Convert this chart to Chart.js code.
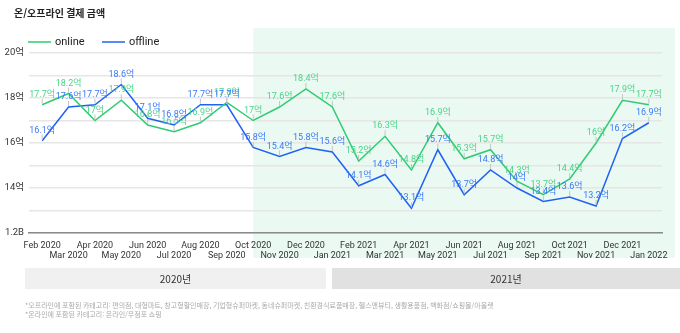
<!DOCTYPE html>
<html lang="ko">
<head>
<meta charset="utf-8">
<script src="https://cdn.jsdelivr.net/npm/chart.js@4/dist/chart.umd.min.js"></script>
<style>
  html, body { margin: 0; padding: 0; background: #fff; }
  #wrap { width: 680px; height: 333px; position: relative; }
</style>
</head>
<body>
<div id="wrap"><canvas id="c" width="680" height="333"></canvas></div>
<script>
// Monthly payment amounts (억 원), Feb 2020 – Jan 2022
const months = [
  'Feb 2020', 'Mar 2020', 'Apr 2020', 'May 2020', 'Jun 2020', 'Jul 2020',
  'Aug 2020', 'Sep 2020', 'Oct 2020', 'Nov 2020', 'Dec 2020', 'Jan 2021',
  'Feb 2021', 'Mar 2021', 'Apr 2021', 'May 2021', 'Jun 2021', 'Jul 2021',
  'Aug 2021', 'Sep 2021', 'Oct 2021', 'Nov 2021', 'Dec 2021', 'Jan 2022'
];
const online = [
  17.7, 18.2, 17, 17.9, 16.8, 16.5, 16.9, 17.8, 17, 17.6, 18.4, 17.6,
  15.2, 16.3, 14.8, 16.9, 15.3, 15.7, 14.3, 13.7, 14.4, 16, 17.9, 17.7
];
const offline = [
  16.1, 17.6, 17.7, 18.6, 17.1, 16.8, 17.7, 17.7, 15.8, 15.4, 15.8, 15.6,
  14.1, 14.6, 13.1, 15.7, 13.7, 14.8, 14, 13.4, 13.6, 13.2, 16.2, 16.9
];
const yTicks = [12, 14, 16, 18, 20];
const yearBands = ['2020년', '2021년'];
const footnotes = [
  '*오프라인에 포함된 카테고리: 편의점, 대형마트, 창고형할인매장, 기업형슈퍼마켓, 동네슈퍼마켓, 친환경식료품매장, 헬스앤뷰티, 생활용품점, 백화점/쇼핑몰/아울렛',
  '*온라인에 포함된 카테고리: 온라인/무점포 쇼핑'
];
const chartTitle = '온/오프라인 결제 금액';

const FONT = "Roboto, 'Noto Sans CJK KR', sans-serif";
const KFONT = "'Noto Sans CJK KR', Roboto, sans-serif";
const GREEN = '#2fcb72';
const BLUE = '#1f62f5';
const GREEN_LABEL = '#49d388';
const BLUE_LABEL = '#3a78f7';
const shadeFrom = 8; // Oct 2020 onward

function fmt(v) { return v + '억'; }

const decor = {
  id: 'decor',
  beforeDraw(chart) {
    const ctx = chart.ctx;
    const x = chart.scales.x;
    ctx.save();
    ctx.fillStyle = '#fff';
    ctx.fillRect(0, 0, chart.width, chart.height);
    // shaded period
    const left = x.getPixelForValue(shadeFrom);
    ctx.fillStyle = '#eaf9f1';
    ctx.fillRect(left, 28, chart.chartArea.right + 13 - left, 258 - 28);
    ctx.restore();
  },
  afterDraw(chart) {
    const ctx = chart.ctx;
    ctx.save();
    // title
    ctx.fillStyle = '#222';
    ctx.font = "bold 10px " + KFONT;
    ctx.textBaseline = 'middle';
    ctx.textAlign = 'left';
    ctx.fillText(chartTitle, 14, 13);
    // legend
    const items = [[GREEN, 'online', 28], [BLUE, 'offline', 102]];
    ctx.font = "11px " + FONT;
    items.forEach(([c, t, lx]) => {
      ctx.strokeStyle = c;
      ctx.lineWidth = 1.5;
      ctx.beginPath();
      ctx.moveTo(lx, 42);
      ctx.lineTo(lx + 23, 42);
      ctx.stroke();
      ctx.fillStyle = '#222';
      ctx.fillText(t, lx + 27, 42);
    });
    // year bands
    const bands = [[25, 326, '#f0f0f0'], [332, 680, '#e1e1e1']];
    ctx.font = "10px " + KFONT;
    ctx.textAlign = 'center';
    bands.forEach(([a, b, col], i) => {
      ctx.fillStyle = col;
      ctx.fillRect(a, 268, b - a, 21);
      ctx.fillStyle = '#333';
      ctx.fillText(yearBands[i], (a + b) / 2, 279);
    });
    // footnotes
    ctx.textAlign = 'left';
    ctx.fillStyle = '#aaa';
    ctx.font = "7px " + KFONT;
    footnotes.forEach((t, i) => ctx.fillText(t, 25, 305 + i * 9));
    ctx.restore();
  },
  afterDatasetsDraw(chart) {
    const ctx = chart.ctx;
    ctx.save();
    ctx.font = "9px " + FONT;
    ctx.textAlign = 'center';
    ctx.textBaseline = 'alphabetic';
    chart.data.datasets.forEach((ds, di) => {
      const meta = chart.getDatasetMeta(di);
      meta.data.forEach((pt, i) => {
        ctx.strokeStyle = '#c4c4c4';
        ctx.lineWidth = 1;
        ctx.beginPath();
        ctx.moveTo(pt.x, pt.y - 1);
        ctx.lineTo(pt.x, pt.y - 6);
        ctx.stroke();
        ctx.fillStyle = ds.labelColor;
        ctx.fillText(fmt(ds.data[i]), pt.x, pt.y - 8);
      });
    });
    ctx.restore();
  }
};

new Chart(document.getElementById('c'), {
  type: 'line',
  data: {
    labels: months,
    datasets: [
      { label: 'online', data: online, borderColor: GREEN, labelColor: GREEN_LABEL,
        borderWidth: 1.5, pointRadius: 0, tension: 0 },
      { label: 'offline', data: offline, borderColor: BLUE, labelColor: BLUE_LABEL,
        borderWidth: 1.5, pointRadius: 0, tension: 0 }
    ]
  },
  options: {
    responsive: false,
    animation: false,
    events: [],
    layout: { padding: { left: 0, right: 18, top: 53, bottom: 70 } },
    plugins: { legend: { display: false }, title: { display: false }, tooltip: { enabled: false } },
    scales: {
      x: {
        offset: true,
        grid: { display: false },
        border: { display: true, color: '#8a8a8a', width: 1.5 },
        afterFit(s) { s.height = 30; },
        ticks: {
          autoSkip: false, maxRotation: 0, minRotation: 0,
          color: '#333', padding: -1,
          font: { family: FONT, size: 9, lineHeight: 1.2 },
          callback(v, i) {
            const l = this.getLabelForValue(v);
            return i % 2 === 0 ? [l, ''] : ['', l];
          }
        }
      },
      y: {
        min: 12, max: 20,
        afterFit(s) { s.width = 29; },
        border: { display: false },
        grid: { color: '#e6e6e6', lineWidth: 1.5, drawTicks: false },
        ticks: {
          stepSize: 1, color: '#333', padding: 5,
          font: { family: FONT, size: 9.5 },
          callback(v) {
            if (!yTicks.includes(v)) return '';
            return v === 12 ? '1.2B' : v + '억';
          }
        }
      }
    }
  },
  plugins: [decor]
});
</script>
</body>
</html>
